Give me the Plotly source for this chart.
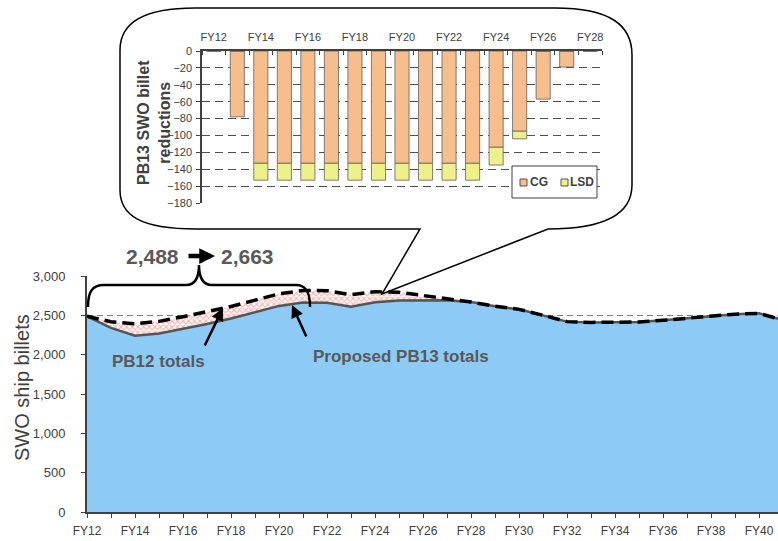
import plotly.graph_objects as go

W, H = 778, 541

# ---- main chart data: SWO ship billets by fiscal year ----
main_years = list(range(12, 42))  # FY12 .. FY41
pb13_totals = [2488, 2340, 2240, 2270, 2330, 2390, 2460, 2540, 2620, 2663,
               2660, 2610, 2665, 2690, 2695, 2691, 2669, 2615, 2576, 2500,
               2420, 2410, 2412, 2415, 2437, 2460, 2490, 2515, 2525, 2440]
pb12_totals = [2488, 2418, 2393, 2423, 2483, 2543, 2613, 2693, 2773, 2816,
               2813, 2763, 2800, 2794, 2752, 2710, 2669, 2615, 2576, 2500,
               2420, 2410, 2412, 2415, 2437, 2460, 2490, 2515, 2525, 2440]
main_tick_years = list(range(12, 41, 2))
main_tick_text = [f"FY{y}" for y in main_tick_years]

# ---- inset data: PB13 SWO billet reductions ----
inset_years = list(range(12, 29))  # FY12 .. FY28
cg_reduction = [0, -78, -133, -133, -133, -133, -133, -133, -133, -133,
                -133, -133, -114, -95, -57, -19, 0]
lsd_reduction = [0, 0, -20, -20, -20, -20, -20, -20, -20, -20,
                 -20, -20, -21, -9, 0, 0, 0]
inset_tick_years = list(range(12, 29, 2))
inset_tick_text = [f"FY{y}" for y in inset_tick_years]

FONT = "Liberation Sans, Arial, sans-serif"
DARK = "#404040"
LABEL = "#595959"
BLUE = "#8DCAF5"
CG_COLOR = "#F5BE8C"
LSD_COLOR = "#EEF08A"


def px(x):
    return x / W


def py(y):
    return 1 - y / H


def path(cmds, close=True):
    out = []
    for c in cmds:
        op, pts = c[0], c[1:]
        out.append(op + " " + " ".join(f"{px(x):.5f},{py(y):.5f}" for x, y in pts))
    return " ".join(out) + (" Z" if close else "")


fig = go.Figure()

# PB13 area
fig.add_trace(go.Scatter(x=main_years, y=pb13_totals, mode="lines",
                         line=dict(width=0), fill="tozeroy", fillcolor=BLUE,
                         showlegend=False, hoverinfo="skip", xaxis="x", yaxis="y"))
# Hatched gap between PB12 and PB13
fig.add_trace(go.Scatter(x=main_years, y=pb12_totals, mode="lines",
                         line=dict(width=0), fill="tonexty",
                         fillpattern=dict(shape="x", fgcolor="#F06A6A", bgcolor="#FFFFFF",
                                          size=4, solidity=0.5),
                         showlegend=False, hoverinfo="skip", xaxis="x", yaxis="y"))
# PB13 outline
fig.add_trace(go.Scatter(x=main_years, y=pb13_totals, mode="lines",
                         line=dict(color="#555555", width=2.5),
                         showlegend=False, xaxis="x", yaxis="y"))
# PB12 dashed line
fig.add_trace(go.Scatter(x=main_years, y=pb12_totals, mode="lines",
                         line=dict(color="#000000", width=3.5, dash="12px,6px"),
                         showlegend=False, xaxis="x", yaxis="y"))

# Inset stacked bars
fig.add_trace(go.Bar(x=inset_years, y=cg_reduction, name="CG",
                     marker=dict(color=CG_COLOR, line=dict(color="#606060", width=0.8)),
                     showlegend=False, xaxis="x2", yaxis="y2"))
fig.add_trace(go.Bar(x=inset_years, y=lsd_reduction, name="LSD",
                     marker=dict(color=LSD_COLOR, line=dict(color="#606060", width=0.8)),
                     showlegend=False, xaxis="x2", yaxis="y2"))

fig.update_layout(
    width=W, height=H,
    margin=dict(l=0, r=0, t=0, b=0, autoexpand=False),
    paper_bgcolor="white", plot_bgcolor="white",
    font=dict(family=FONT, color=DARK),
    barmode="relative", bargap=0.4,
    xaxis=dict(domain=[px(87), 1], range=[12, 40.79], anchor="y", automargin=False,
               tickvals=main_tick_years, ticktext=main_tick_text,
               tickfont=dict(size=12, color=DARK), showgrid=False,
               showline=True, linecolor=DARK, linewidth=2,
               ticks="outside", ticklen=4, tickcolor=DARK,
               minor=dict(dtick=1, tick0=12, ticks="outside", ticklen=4, tickcolor=DARK),
               ticklabelstandoff=3, zeroline=False),
    yaxis=dict(domain=[py(512), py(276)], range=[0, 3000], anchor="x", automargin=False,
               dtick=500, tickformat=",", tickfont=dict(size=13, color=DARK),
               showgrid=True, gridcolor="#808080", griddash="6px,4px", gridwidth=1.2,
               showline=True, linecolor=DARK, linewidth=2,
               ticks="outside", ticklen=4, tickcolor=DARK,
               ticklabelstandoff=13, zeroline=False),
    xaxis2=dict(domain=[px(202), px(602)], range=[11.5, 28.5], anchor="y2", automargin=False,
                side="top", tickvals=inset_tick_years, ticktext=inset_tick_text,
                tickfont=dict(size=11, color=DARK), showgrid=False,
                showline=True, linecolor=DARK, linewidth=1.5, ticks="",
                minor=dict(tick0=11.5, dtick=1, ticks="inside", ticklen=4, tickcolor=DARK),
                ticklabelstandoff=4, zeroline=False),
    yaxis2=dict(domain=[py(203), py(51)], range=[-180, 0], anchor="x2", automargin=False,
                dtick=20, tickfont=dict(size=11, color=DARK),
                showgrid=True, gridcolor="#505050", griddash="8px,5px", gridwidth=1,
                showline=True, linecolor=DARK, linewidth=1.5,
                ticks="outside", ticklen=4, tickcolor=DARK,
                ticklabelstandoff=2, zeroline=False),
)

shapes = []
# Callout bubble with its tail
shapes.append(dict(type="path", xref="paper", yref="paper", layer="above",
                   line=dict(color="#000000", width=1.5),
                   path=path([("M", (195, 8)), ("L", (555, 8)),
                              ("C", (610, 8), (632, 25), (632, 55)), ("L", (632, 185)),
                              ("Q", (632, 229), (548, 229)),
                              ("L", (382, 294)), ("L", (420, 229)),
                              ("L", (196, 229)), ("C", (140, 229), (120, 215), (120, 190)),
                              ("L", (120, 50)), ("C", (120, 25), (140, 8), (195, 8))])))
# Curly brace over FY12..FY21
shapes.append(dict(type="path", xref="paper", yref="paper", layer="above",
                   line=dict(color="#000000", width=2.5),
                   path=path([("M", (88, 307)), ("C", (88, 292), (92, 285), (104, 285)),
                              ("L", (186, 285)), ("C", (195, 285), (199, 278), (199, 265)),
                              ("C", (199, 278), (203, 285), (212, 285)),
                              ("L", (296, 285)), ("C", (306, 285), (310, 292), (310, 307))],
                             close=False)))
# Custom legend for the inset
shapes.append(dict(type="rect", xref="paper", yref="paper", layer="above",
                   x0=px(512), x1=px(597), y0=py(198), y1=py(166),
                   fillcolor="white", line=dict(color=DARK, width=1)))
shapes.append(dict(type="rect", xref="paper", yref="paper", layer="above",
                   x0=px(520), x1=px(527), y0=py(186), y1=py(179),
                   fillcolor=CG_COLOR, line=dict(color="#505050", width=1)))
shapes.append(dict(type="rect", xref="paper", yref="paper", layer="above",
                   x0=px(561), x1=px(568), y0=py(186), y1=py(179),
                   fillcolor=LSD_COLOR, line=dict(color="#505050", width=1)))
fig.update_layout(shapes=shapes)


def label(text, x, y, size, color=DARK, angle=0, anchor="center"):
    return dict(text=text, x=px(x), y=py(y), textangle=angle,
                xanchor=anchor, yanchor="middle",
                font=dict(size=size, color=color, family=FONT), showarrow=False,
                xref="paper", yref="paper")


def pointer(x, y, ax, ay, width, size=1.0):
    return dict(text="", x=px(x), y=py(y), ax=ax, ay=ay, showarrow=True,
                arrowhead=2, arrowsize=size, arrowwidth=width, arrowcolor="#000000",
                xref="paper", yref="paper")


ann = [
    label("<b>CG</b>", 528, 182.5, 12, anchor="left"),
    label("<b>LSD</b>", 568, 182.5, 12, anchor="left"),
    # Inset axis title
    label("<b>PB13 SWO billet<br>reductions</b>", 154, 123, 16, angle=-90),
    # Main axis title
    label("SWO ship billets", 22, 388, 20, angle=-90),
    # Growth callout over the brace
    label(f"<b>{pb13_totals[0]:,}</b>", 152.5, 256, 21, color=LABEL),
    label(f"<b>{pb13_totals[main_years.index(21)]:,}</b>", 247.5, 256, 21, color=LABEL),
    pointer(215, 256, -28, 0, 4.5, 0.7),
    # Series labels with pointers
    label("<b>PB12 totals</b>", 158, 361, 17, color=LABEL),
    pointer(223, 308, -19, 39, 2.5),
    label("<b>Proposed PB13 totals</b>", 401, 356, 17, color=LABEL),
    pointer(292, 305, 15, 33, 2.5),
]
fig.update_layout(annotations=ann)

fig.write_html("out.html")
